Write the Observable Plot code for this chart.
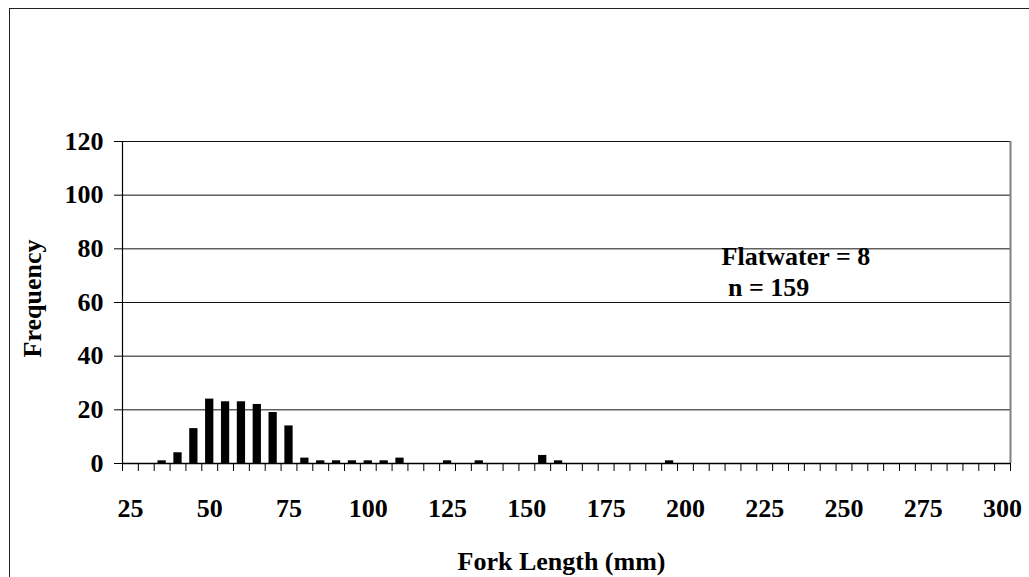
<!DOCTYPE html>
<html>
<head>
<meta charset="utf-8">
<script src="https://cdn.jsdelivr.net/npm/d3@7"></script>
<script src="https://cdn.jsdelivr.net/npm/@observablehq/plot@0.6"></script>
<style>
  html, body { margin: 0; padding: 0; background: #fff; overflow: hidden; }
  #wrap { position: relative; width: 1029px; height: 577px; }
  #outer { position: absolute; left: 9px; top: 8px; width: 1100px; height: 700px;
           border-left: 1px solid #222; border-top: 1px solid #222; pointer-events: none; }
  #chart { position: absolute; left: 0; top: 0; }
  #chart svg text { font-family: 'Liberation Serif', 'Times New Roman', Times, serif !important; font-weight: bold; }
</style>
</head>
<body>
<div id="wrap"><div id="chart"></div><div id="outer"></div></div>
<script>
// Fork length bins (mm) that hold fish, and their counts
const bins   = [35, 40, 45, 50, 55, 60, 65, 70, 75, 80, 85, 90, 95, 100, 105, 110, 125, 135, 155, 160, 195];
const counts = [ 1,  4, 13, 24, 23, 23, 22, 19, 14,  2,  1,  1,  1,   1,   1,   2,   1,   1,   3,   1,   1];
// Category axis: bins 25..300 every 5 mm; labels every 25 mm
const categories = d3.range(25, 301, 5);
const xLabels = [25, 50, 75, 100, 125, 150, 175, 200, 225, 250, 275, 300];
const yTicks = [0, 20, 40, 60, 80, 100, 120];
const gridLines = [20, 40, 60, 80, 100, 120];
const annotation = ["Flatwater = 8", "\u00a0n = 159"];
const xTitle = "Fork Length (mm)";
const yTitle = "Frequency";

const binWidth = 5;
const xDomain = [categories[0] - binWidth / 2, categories[categories.length - 1] + binWidth / 2];
const boundaries = categories.map(c => c - binWidth / 2).concat([xDomain[1]]);
const data = bins.map((b, i) => ({bin: b, count: counts[i]}));

const font = "'Liberation Serif', 'Times New Roman', Times, serif";

const chart = Plot.plot({
  width: 1029,
  height: 577,
  marginLeft: 122,
  marginRight: 19,
  marginTop: 141,
  marginBottom: 114,
  style: {fontFamily: font, fontWeight: "bold", fontSize: "26px", background: "white", color: "black"},
  x: {domain: xDomain},
  y: {domain: [0, 120]},
  marks: [
    Plot.ruleY(gridLines, {stroke: "#111", strokeWidth: 1}),
    Plot.rectY(data, {x1: d => d.bin - binWidth / 2, x2: d => d.bin + binWidth / 2, y: "count",
                      insetLeft: 3.8, insetRight: 3.8, fill: "black"}),
    Plot.ruleX([xDomain[0]], {stroke: "black", strokeWidth: 1.2}),
    Plot.ruleX([xDomain[1]], {stroke: "#808080", strokeWidth: 2}),
    Plot.ruleY([0], {stroke: "black", strokeWidth: 1.5}),
    Plot.axisY({ticks: yTicks, tickSize: 8, tickPadding: 11, label: null,
                fontFamily: font, fontSize: 26, fontWeight: "bold", stroke: "black"}),
    Plot.axisX({ticks: boundaries, tickSize: 8, tickFormat: () => "", label: null, stroke: "black"}),
    Plot.axisX({ticks: xLabels, tickSize: 0, tickPadding: 35, label: null,
                fontFamily: font, fontSize: 26, fontWeight: "bold", tickFormat: d => String(d)}),
    Plot.text([annotation.join("\n")], {x: 211.4, y: 82, text: d => d, textAnchor: "start",
               lineAnchor: "top", lineHeight: 1.19, fontFamily: font, fontSize: 26, fontWeight: "bold", fill: "black"}),
    Plot.text([xTitle], {frameAnchor: "bottom", textAnchor: "middle", lineAnchor: "middle", dy: 98, dx: -5,
               fontFamily: font, fontSize: 26, fontWeight: "bold", fill: "black"}),
    Plot.text([yTitle], {frameAnchor: "left", textAnchor: "middle", lineAnchor: "middle", rotate: -90, dx: -90, dy: -4,
               fontFamily: font, fontSize: 26, fontWeight: "bold", fill: "black"})
  ]
});
document.getElementById("chart").appendChild(chart);
</script>
</body>
</html>
